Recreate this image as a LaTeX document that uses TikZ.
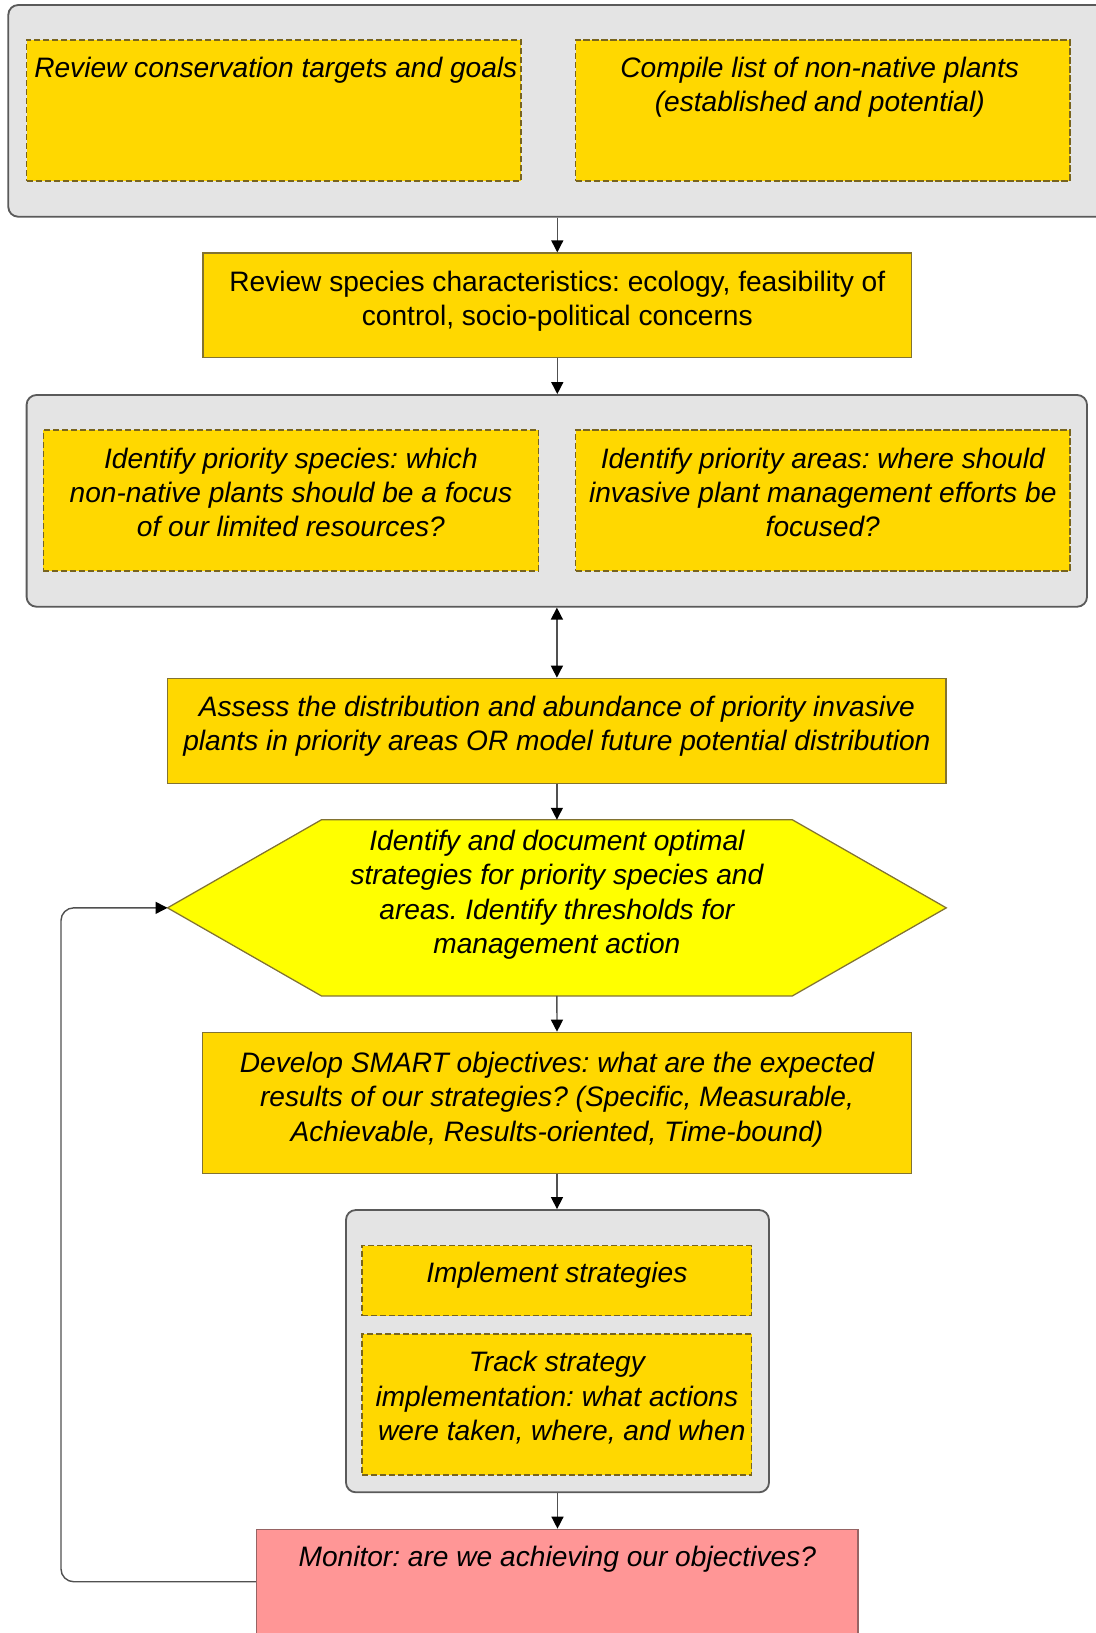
\documentclass[tikz,border=0pt]{standalone}
\usepackage{fontspec}
\setmainfont{Liberation Sans}
\usetikzlibrary{arrows.meta,calc,fit}
\frenchspacing

\definecolor{boxyel}{RGB}{255,216,0}
\definecolor{hexyel}{RGB}{255,255,0}
\definecolor{grpfill}{RGB}{228,228,228}
\definecolor{grpline}{RGB}{90,90,90}
\definecolor{dashline}{RGB}{120,100,30}
\definecolor{boxline}{RGB}{130,115,50}
\definecolor{pinkfill}{RGB}{255,150,150}
\definecolor{pinkline}{RGB}{150,100,100}
\definecolor{linegray}{RGB}{80,80,80}

\begin{document}
\begin{tikzpicture}[x=0.025cm,y=-0.025cm,
    grp/.style={draw=grpline,fill=grpfill,line width=1.3pt,rounded corners=7pt,inner sep=0pt},
    dbox/.style={draw=dashline,fill=boxyel,line width=0.9pt,dash pattern=on 4.3pt off 2.1pt,inner sep=0pt},
    sbox/.style={draw=boxline,fill=boxyel,line width=0.9pt,inner sep=0pt},
    txt/.style={anchor=north,align=center,inner sep=0pt,font=\fontsize{20}{24.5}\selectfont\itshape},
    txtup/.style={txt,font=\fontsize{20}{24.5}\selectfont\upshape},
    link/.style={draw=linegray,line width=1pt,-{Triangle[length=8.5pt,width=8.5pt,black]}},
    dlink/.style={link,{Triangle[length=8.5pt,width=8.5pt,black]}-{Triangle[length=8.5pt,width=8.5pt,black]}}]
  \useasboundingbox (0,0) rectangle (1096,1633);
  \clip (0,0) rectangle (1096,1633);

  \node[grp,fit={(8.3,5) (1110,216.7)}] (grp1) {};
  \node[dbox,fit={(26.6,40) (521,181)}] (consv) {};
  \node[dbox,fit={(575.5,40) (1070,181)}] (compile) {};
  \node[txt] (consvt) at ($(consv.north)+(2,17)$) {Review conservation targets and goals};
  \node[txt] (compilet) at ($(compile.north)+(-3,17)$) {Compile list of non-native plants\\(established and potential)};

  \node[sbox,fit={(203,253) (911.6,357.3)}] (spec) {};
  \node[txtup] (spect) at ($(spec.north)+(0,18)$) {Review species characteristics: ecology, feasibility of\\control, socio-political concerns};

  \node[grp,fit={(26.6,395) (1087,606.7)}] (grp2) {};
  \node[dbox,fit={(43.4,430) (538.5,571)}] (species) {};
  \node[dbox,fit={(575.5,430) (1070,571)}] (areas) {};
  \node[txt] (speciest) at ($(species.north)+(0,18)$) {Identify priority species: which\\non-native plants should be a focus\\of our limited resources?};
  \node[txt] (areast) at ($(areas.north)+(0,18)$) {Identify priority areas: where should\\invasive plant management efforts be\\focused?};

  \node[sbox,fit={(167.8,678.3) (946,783.3)}] (assess) {};
  \node[txt] (assesst) at ($(assess.north)+(0,18)$) {Assess the distribution and abundance of priority invasive\\plants in priority areas OR model future potential distribution};

  \node[inner sep=0pt,fit={(167.8,820) (946,995.7)}] (hex) {};
  \draw[draw=boxline,fill=hexyel,line width=0.9pt] (hex.west) -- ($(hex.north west)+(154,0)$) -- ($(hex.north east)+(-154,0)$)
    -- (hex.east) -- ($(hex.south east)+(-154,0)$) -- ($(hex.south west)+(154,0)$) -- cycle;
  \node[txt] (hext) at ($(hex.north)+(0,10)$) {Identify and document optimal\\strategies for priority species and\\areas. Identify thresholds for\\management action};

  \node[sbox,fit={(202.8,1032.3) (911.2,1173.3)}] (smart) {};
  \node[txt] (smartt) at ($(smart.north)+(0,20)$) {Develop SMART objectives: what are the expected\\results of our strategies? (Specific, Measurable,\\Achievable, Results-oriented, Time-bound)};

  \node[grp,fit={(346,1210) (769,1492.3)}] (grp3) {};
  \node[dbox,fit={(362,1245.7) (751.7,1315.7)}] (impl) {};
  \node[dbox,fit={(362,1334) (751.7,1475)}] (track) {};
  \node[txt] (implt) at ($(impl.north)+(0,17)$) {Implement strategies};
  \node[txt] (trackt) at ($(track.north)+(0,17.7)$) {Track strategy\\implementation: what actions\\\hspace*{7pt}were taken, where, and when};

  \node[draw=pinkline,fill=pinkfill,line width=0.9pt,inner sep=0pt,fit={(256.6,1529.3) (858,1660)}] (monitor) {};
  \node[txt] (monitort) at ($(monitor.north)+(0,17.4)$) {Monitor: are we achieving our objectives?};

  \draw[link] (spec.north |- grp1.south) -- (spec.north);
  \draw[link] (spec.south) -- (spec.south |- grp2.north);
  \draw[dlink] (assess.north |- grp2.south) -- (assess.north);
  \draw[link] (assess.south) -- (hex.north);
  \draw[link] (hex.south) -- (smart.north);
  \draw[link] (smart.south) -- (smart.south |- grp3.north);
  \draw[link] (grp3.south) -- (grp3.south |- monitor.north);

  \coordinate (fbcorner) at (61,1581.7);
  \draw[link,rounded corners=9pt] (monitor.west |- fbcorner) -- (fbcorner) |- (hex.west);
\end{tikzpicture}
\end{document}
